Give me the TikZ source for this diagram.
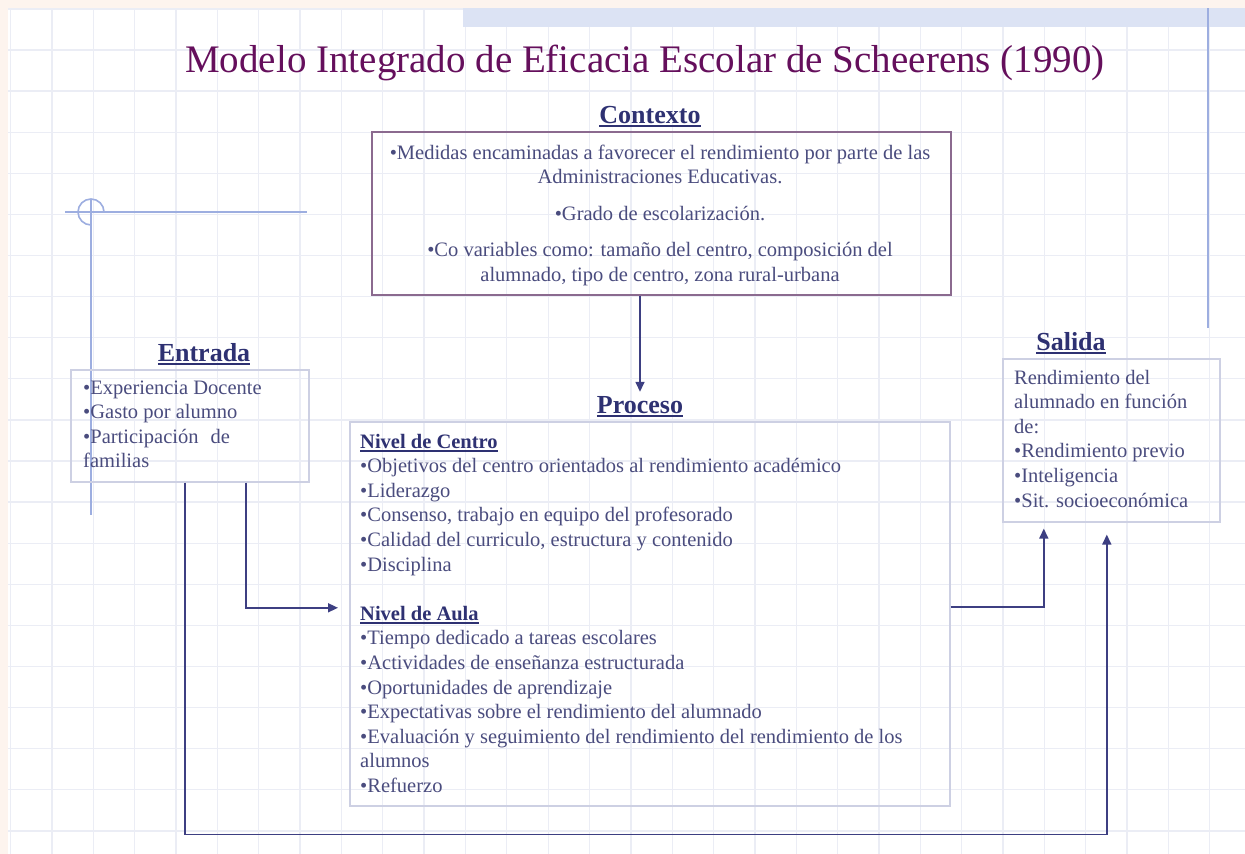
\documentclass[tikz,border=0pt]{standalone}
\usepackage{fontspec}
\setmainfont{Liberation Serif}
\usetikzlibrary{arrows.meta}
\definecolor{titlec}{HTML}{650F5C}
\definecolor{headc}{HTML}{2E3172}
\definecolor{bodyc}{HTML}{4A4C7E}
\definecolor{gridc}{HTML}{EBEDF5}
\definecolor{peach}{HTML}{FDF4EE}
\definecolor{bandc}{HTML}{DCE3F4}
\definecolor{decoc}{HTML}{9DAEE0}
\definecolor{ctxc}{HTML}{8B6A8F}
\definecolor{boxc}{HTML}{CDD0E3}
\definecolor{arrc}{HTML}{3D3F82}
\newsavebox\hdbox
\newcommand{\hdline}[1]{\sbox\hdbox{#1}\rlap{\rule[-3.5pt]{\wd\hdbox}{1.6pt}}\usebox\hdbox}
\begin{document}
\begin{tikzpicture}[x=1pt,y=-1pt,
  gridline/.style={draw=gridc, line width=1.3pt},
  deco/.style={draw=decoc, line width=1.6pt},
  box/.style={draw=boxc, line width=1.6pt, inner sep=0pt, anchor=north west},
  ctxbox/.style={box, draw=ctxc, line width=1.8pt},
  body/.style={text=bodyc, font=\fontsize{20.5}{24.6}\selectfont, inner sep=0pt, align=left},
  head/.style={text=headc, font=\fontsize{26}{30}\selectfont\bfseries, inner sep=0pt, anchor=base},
  titlest/.style={text=titlec, font=\fontsize{39}{44}\selectfont, inner sep=0pt, anchor=base},
  arr/.style={draw=arrc, line width=1.6pt, -{Triangle[length=10pt,width=9pt]}}]
\useasboundingbox (0,0) rectangle (1245,854);
\fill[white] (0,0) rectangle (1245,854);
% grid
\foreach \i in {0,...,29} \draw[gridline] ({10.6+41.35*\i},8) -- ({10.6+41.35*\i},854);
\foreach \j in {0,...,20} \draw[gridline] (8,{8.9+41.1*\j}) -- (1245,{8.9+41.1*\j});
% frame and decorations
\fill[peach] (0,0) rectangle (1245,8);
\fill[peach] (0,0) rectangle (8,854);
\fill[bandc] (463,8) rectangle (1245,27);
\draw[deco] (1208,8) -- (1208,328);
\draw[deco] (65,212) -- (307,212);
\draw[deco] (91,199) -- (91,515);
\draw[deco] (91,212) ++(13pt,0pt) arc[start angle=0, end angle=270, radius=13pt];
% title
\node[titlest] (title) at (645,72) {Modelo Integrado de Eficacia Escolar de Scheerens (1990)};
% boxes
\node[ctxbox, minimum width=579, minimum height=163] (ctx) at (371,131) {};
\node[box, minimum width=238, minimum height=112] (ent) at (70,369) {};
\node[box, minimum width=600, minimum height=384] (proc) at (349,421) {};
\node[box, minimum width=217, minimum height=163] (sal) at (1002,358) {};
% headings
\node[head] (ctxh) at (650,123) {\hdline{Contexto}};
\node[head] (enth) at (204,361) {\hdline{Entrada}};
\node[head] (proch) at (640,413) {\hdline{Proceso}};
\node[head] (salh) at (1071,350) {\hdline{Salida}};
% texts (anchored at the baseline of their last line)
\node[body, align=center, anchor=base] (ctxt) at (660,281.4)
  {•Medidas encaminadas a favorecer el rendimiento por parte de las\\
   Administraciones Educativas.\\[12pt]
   •Grado de escolarización.\\[12pt]
   •Co variables como: tamaño del centro, composición del\\
   alumnado, tipo de centro, zona rural-urbana};
\node[body, anchor=base west] (entt) at (83,467.8)
  {•Experiencia Docente\\•Gasto por alumno\\•Participación\hspace{7pt} de\\familias};
\node[body, anchor=base west] (proct) at (360,792.4)
  {\textcolor{headc}{\bfseries\hdline{Nivel de Centro}}\\
   •Objetivos del centro orientados al rendimiento académico\\
   •Liderazgo\\
   •Consenso, trabajo en equipo del profesorado\\
   •Calidad del curriculo, estructura y contenido\\
   •Disciplina\\[24.6pt]
   \textcolor{headc}{\bfseries\hdline{Nivel de Aula}}\\
   •Tiempo dedicado a tareas escolares\\
   •Actividades de enseñanza estructurada\\
   •Oportunidades de aprendizaje\\
   •Expectativas sobre el rendimiento del alumnado\\
   •Evaluación y seguimiento del rendimiento del rendimiento de los\\
   alumnos\\
   •Refuerzo};
\node[body, anchor=base west] (salt) at (1014,507)
  {Rendimiento del\\alumnado en función\\de:\\•Rendimiento previo\\•Inteligencia\\•Sit. socioeconómica};
% connectors
\draw[arr] (proch.north |- ctx.south) -- ([yshift=4pt]proch.north);
\draw[arr, shorten >=11pt] ([xshift=56pt]ent.south) |- ([yshift=6pt]proc.west);
\draw[arr] ([xshift=-5pt]ent.south) -- ++(0,352) -| ([xshift=-4.5pt,yshift=-12pt]sal.south);
\draw[arr] ([yshift=7pt]proc.east) -| ([xshift=-67.5pt,yshift=-6pt]sal.south);
\end{tikzpicture}
\end{document}
